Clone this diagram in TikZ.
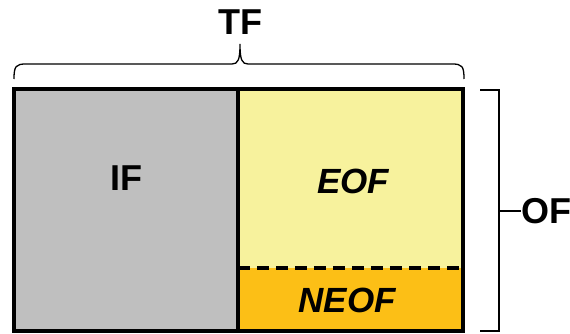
\documentclass[tikz,border=0pt]{standalone}
\usepackage{fontspec}
\setmainfont{Liberation Sans}
\usepackage{tikz}
\definecolor{ifgray}{HTML}{BFBFBF}
\definecolor{eofyellow}{HTML}{F7F29D}
\definecolor{neoforange}{HTML}{FCBF16}
\tikzset{
  lbl/.style={font=\fontsize{36}{42}\selectfont\bfseries},
  ilbl/.style={font=\fontsize{35}{41}\selectfont\bfseries\itshape},
}
\begin{document}
\begin{tikzpicture}[x=1pt,y=-1pt]
\useasboundingbox (0,0) rectangle (570,334);
% blocks
\fill[ifgray] (14,89) rectangle (238,331);
\fill[eofyellow] (238,89) rectangle (463,268);
\fill[neoforange] (238,268) rectangle (463,331);
\draw[line width=3.5pt,dash pattern=on 12pt off 7pt] (238,268)--(463,268);
\draw[line width=4pt] (238,89)--(238,331);
\draw[line width=4.5pt] (14,89) rectangle (463,331);
% labels
\node[lbl] (if) at (126,178) {IF};
\node[ilbl] (eof) at (353,181) {EOF};
\node[ilbl] (neof) at (347,300) {NEOF};
% top brace
\draw[line width=1.3pt] (14,79) .. controls (14,66) and (16,64) .. (26,64)
  -- (232,64) .. controls (238,64) and (240,60) .. (240,44)
  .. controls (240,60) and (242,64) .. (248,64)
  -- (452,64) .. controls (462,64) and (464,66) .. (464,79);
\node[lbl] (tf) at (240,22) {TF};
% right bracket
\draw[line width=1.3pt] (480,90)--(499,90)--(499,331)--(480,331);
\coordinate (ofmid) at (499,211);
\node[lbl,anchor=west,inner sep=0pt] (of) at (521,211) {OF};
\draw[line width=1.3pt] (ofmid)--(of.west);
\end{tikzpicture}
\end{document}
